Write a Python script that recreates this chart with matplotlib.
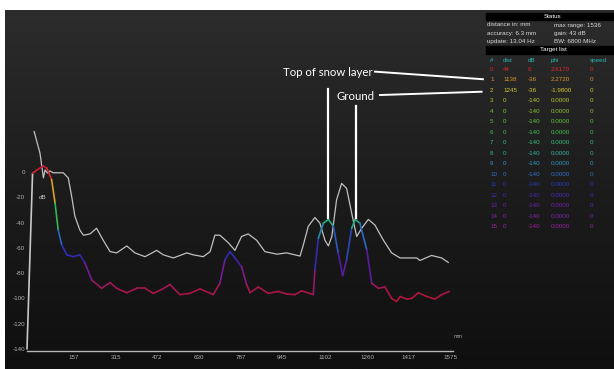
#!/usr/bin/env python3
"""Radar echo over snow: amplitude vs distance with status / target panel."""

import matplotlib

matplotlib.use("Agg")
import matplotlib.pyplot as plt
import numpy as np
from matplotlib.collections import LineCollection
from matplotlib.colors import LinearSegmentedColormap, Normalize
from matplotlib.patches import Rectangle

W, H = 614, 369

# grey reference trace (distance in mm, level in dB)
ref_dist = [27, 49, 62, 68, 77, 87, 99, 137, 156, 169, 181, 200, 213, 238, 263,
            288, 314, 339, 377, 408, 446, 490, 515, 553, 604, 628, 666, 692,
            710, 729, 761, 786, 811, 836, 868, 899, 944, 981, 1032, 1044, 1063,
            1088, 1107, 1126, 1139, 1152, 1170, 1189, 1208, 1227, 1246, 1265,
            1290, 1315, 1347, 1378, 1410, 1473, 1485, 1529, 1567, 1592]
ref_db = [32, 15, -4.7, 1.6, -0.8, 0.8, -0.6, -0.6, -4.7, -19.5, -35, -46, -50,
          -49, -44.5, -54, -63, -64, -58.5, -64, -67, -62, -65.5, -68, -64,
          -65.5, -67, -63, -50, -50, -56, -62, -51, -49, -54, -63, -65, -64,
          -66.5, -58, -43, -36, -40.5, -54, -58.5, -51, -22, -9, -13, -32.5,
          -51, -44.5, -37.5, -42, -54, -64, -68, -68, -70, -66, -68, -71.5]

# measured echo trace, coloured by level
echo_dist = [0, 21, 37, 62, 75, 93, 106, 118, 131, 150, 175, 200, 219, 245,
             282, 314, 339, 377, 415, 446, 477, 509, 540, 578, 616, 654, 704,
             729, 748, 767, 786, 811, 830, 843, 874, 912, 950, 981, 1013, 1038,
             1082, 1088, 1101, 1120, 1139, 1158, 1176, 1193, 1208, 1227, 1240,
             1258, 1284, 1303, 1328, 1353, 1378, 1397, 1410, 1435, 1454, 1479,
             1511, 1542, 1567, 1596]
echo_db = [-140, -1, 1.6, 4.7, 3, -6, -24.5, -46, -57.5, -65.5, -67, -65.5, -72,
           -85.5, -92, -87.5, -92, -95.5, -92, -92, -96, -93, -89, -97, -96,
           -92.5, -97, -88, -69.5, -63, -68, -75, -89, -95.5, -91, -96, -94.5,
           -96.5, -97, -94, -97, -77.5, -52.5, -40.5, -37.5, -43, -64, -82,
           -69.5, -44.5, -37.5, -40.5, -61.5, -88, -92, -91, -100, -102.5,
           -98.5, -100.5, -100, -95.5, -98.5, -100.5, -97, -94.5]

x_ticks = [157, 315, 472, 630, 787, 945, 1102, 1260, 1417, 1575]
y_ticks = [0, -20, -40, -60, -80, -100, -120, -140]

status_left = ["distance in: mm", "accuracy: 6.3 mm", "update: 13.04 Hz"]
status_right = ["max range: 1536", "gain: 43 dB", "BW: 6800 MHz"]

target_cols = ["#", "dist", "dB", "phi", "speed"]
target_id = list(range(16))
target_dist = [44, 1138, 1245, 0, 0, 0, 0, 0, 0, 0, 0, 0, 0, 0, 0, 0]
target_db = [6, -36, -36, -140, -140, -140, -140, -140, -140, -140, -140,
             -140, -140, -140, -140, -140]
target_phi = [2.6170, 2.2720, -1.9800, 0, 0, 0, 0, 0, 0, 0, 0, 0, 0, 0, 0, 0]
target_speed = [0] * 16
target_colors = ["#e02828", "#d8952a", "#d6c42a", "#b4c42c", "#86c234",
                 "#5cc23a", "#3ec24e", "#34bc78", "#30b0a0", "#3094c0",
                 "#3072c4", "#2a3cb8", "#4a28b4", "#6a24b0", "#8424aa",
                 "#9a22a0"]

# pixel mapping of the original screen
X0_PX, PX_PER_MM = 27.0, 0.2646
Y0_PX, PX_PER_DB = 172.0, 1.264

GRADIENT = [
    (-100, "#b01438"), (-90, "#a01858"), (-80, "#7a1a92"), (-70, "#3a22a8"),
    (-60, "#2838b8"), (-50, "#2a70c0"), (-42, "#22a898"), (-36, "#2cb25a"),
    (-28, "#84c030"), (-20, "#d2c020"), (-10, "#e08020"), (0, "#d22030"),
    (6, "#c01838"),
]


def fig_xy(x, y):
    return x / W, 1 - y / H


def main():
    plt.rcParams["font.family"] = ["Liberation Sans", "DejaVu Sans"]
    fig = plt.figure(figsize=(W / 100, H / 100), dpi=100, facecolor="white")

    # dark screen with a slight vertical gradient
    bg = fig.add_axes([5 / W, 0, (W - 5) / W, (H - 10) / H])
    grad = np.linspace(0, 1, 256).reshape(-1, 1)
    bg.imshow(grad, aspect="auto", extent=(0, 1, 0, 1), origin="lower",
              cmap=LinearSegmentedColormap.from_list("bg", ["#0f0f0f", "#1c1c1c", "#2c2c2c"]))
    bg.set_axis_off()

    ax = fig.add_axes([0, 0, 1, 1])
    ax.patch.set_alpha(0)
    ax.set_xlim(-X0_PX / PX_PER_MM, (W - X0_PX) / PX_PER_MM)
    ax.set_ylim((Y0_PX - H) / PX_PER_DB, Y0_PX / PX_PER_DB)

    for side in ("top", "right"):
        ax.spines[side].set_visible(False)
    ax.spines["left"].set_position(("data", 0))
    ax.spines["left"].set_visible(False)
    ax.spines["bottom"].set_position(("data", -141.6))
    ax.spines["bottom"].set_bounds(0, 1610)
    ax.spines["bottom"].set_color("#b8b8b8")
    ax.spines["bottom"].set_linewidth(1.0)

    ax.set_xticks(x_ticks)
    ax.set_xticklabels([str(v) for v in x_ticks])
    ax.set_yticks(y_ticks)
    ax.set_yticklabels([str(v) for v in y_ticks])
    ax.tick_params(length=0, labelsize=4.5, labelcolor="#b0b0b0")
    ax.tick_params(axis="x", pad=3)
    ax.tick_params(axis="y", pad=1.5)
    for lbl in ax.get_xticklabels():
        lbl.set_ha("left")

    ax.text(60, -20, "dB", color="#c8c8c8", fontsize=4.5, ha="center", va="center")
    ax.text(1629, -130, "mm", color="#a8a8a8", fontsize=3.8, ha="center", va="center")

    ax.plot(ref_dist, ref_db, color="#c0c0c0", lw=0.9, zorder=3,
            solid_joinstyle="round")

    # echo trace coloured by level
    xs = np.asarray(echo_dist, float)
    ys = np.asarray(echo_db, float)
    pts = np.column_stack([xs, ys])
    segs = np.stack([pts[:-1], pts[1:]], axis=1)
    cmap = LinearSegmentedColormap.from_list(
        "level", [((v + 100) / 106, c) for v, c in GRADIENT])
    norm = Normalize(-100, 6)
    colors = cmap(norm((ys[:-1] + ys[1:]) / 2))
    low = np.minimum(ys[:-1], ys[1:]) < -120
    colors[low] = matplotlib.colors.to_rgba("#c8c8c8")
    ax.add_collection(LineCollection(segs, colors=colors, linewidths=1.2,
                                     capstyle="round", joinstyle="round", zorder=4))

    # annotations for the two detected targets
    ax.plot([target_dist[1]] * 2, [66, target_db[1]], color="white", lw=1.6, zorder=5)
    ax.plot([target_dist[2]] * 2, [52, target_db[2]], color="white", lw=1.6, zorder=5)
    ax.plot([1315, 1723], [79.4, 73.4], color="white", lw=1.4, zorder=5)
    ax.plot([1334, 1718], [60.9, 63.5], color="white", lw=1.4, zorder=5)
    ax.text(1305, 79, "Top of snow layer", color="white", fontsize=8.2,
            family="Lato", ha="right", va="center", zorder=6)
    ax.text(1312, 59.5, "Ground", color="white", fontsize=8.2,
            family="Lato", ha="right", va="center", zorder=6)

    # status panel
    for y_top, y_bot, title in ((12.7, 19.5, "Status"), (46, 53.5, "Target list")):
        x, y = fig_xy(486, y_bot)
        fig.add_artist(Rectangle((x, y), (W - 486) / W, (y_bot - y_top) / H,
                                 transform=fig.transFigure, color="black", zorder=5))
        fig.text(*fig_xy(553, (y_top + y_bot) / 2), title, color="white",
                 fontsize=4.5, ha="center", va="center", zorder=6)
    for i, (left, right) in enumerate(zip(status_left, status_right)):
        py = 25 + i * 8.3
        fig.text(*fig_xy(487, py), left, color="#d8d8d8", fontsize=4.5, va="center")
        fig.text(*fig_xy(554, py), right, color="#d8d8d8", fontsize=4.5, va="center")

    col_x = [490, 503, 528, 551, 590]
    for cx, name in zip(col_x, target_cols):
        fig.text(*fig_xy(cx, 60.5), name, color="#28b8b8", fontsize=4.5, va="center")
    for i, tid in enumerate(target_id):
        py = 69.4 + i * 10.49
        cells = [str(tid), str(target_dist[i]), str(target_db[i]),
                 f"{target_phi[i]:.4f}", str(target_speed[i])]
        for cx, cell in zip(col_x, cells):
            fig.text(*fig_xy(cx, py), cell, color=target_colors[i],
                     fontsize=4.5, va="center")

    fig.savefig("out.png", dpi=100, facecolor="white")
    plt.close(fig)


if __name__ == "__main__":
    main()
